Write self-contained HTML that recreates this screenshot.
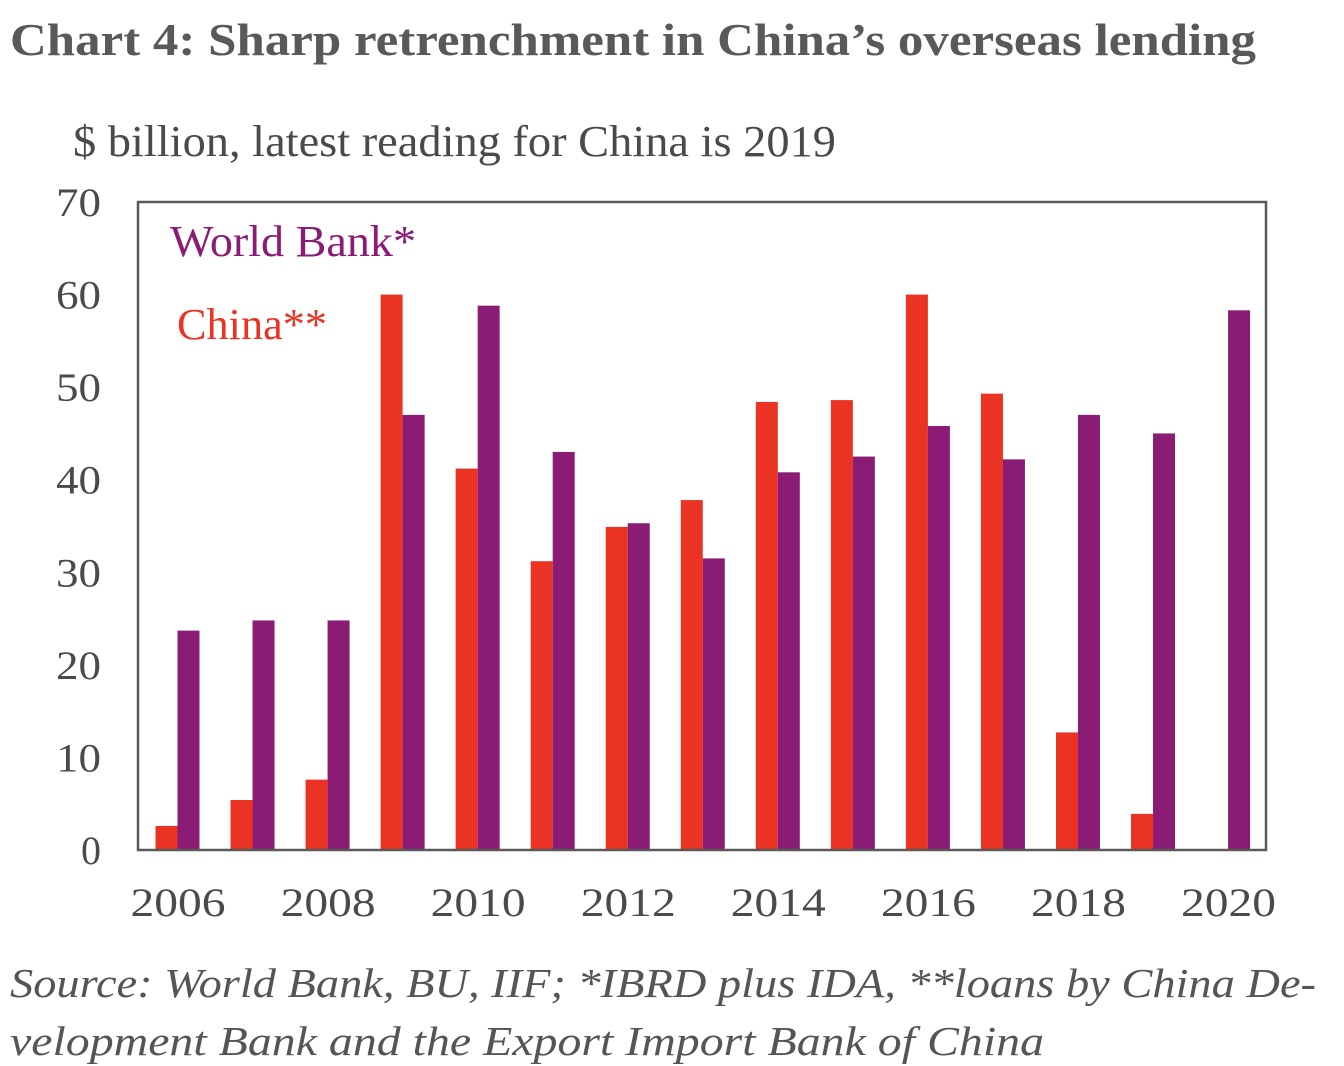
<!DOCTYPE html>
<html><head><meta charset="utf-8"><style>
html,body{margin:0;padding:0;background:#fff;}
svg{display:block;}
text{font-family:"Liberation Serif",serif;}
</style></head><body>
<svg width="1344" height="1066" viewBox="0 0 1344 1066">
<text x="10" y="55" font-size="45" font-weight="bold" fill="#595959" textLength="1246" lengthAdjust="spacingAndGlyphs">Chart 4: Sharp retrenchment in China’s overseas lending</text>
<text x="73" y="156" font-size="44" fill="#4a4a4a" textLength="763" lengthAdjust="spacingAndGlyphs">$ billion, latest reading for China is 2019</text>
<g id="bars"></g>
<g id="yticks"></g>
<g id="xticks"></g>
<rect x="138" y="202" width="1128" height="648" fill="none" stroke="#595959" stroke-width="2.5"/>
<text x="170" y="256" font-size="44" fill="#8b1c76" textLength="246" lengthAdjust="spacingAndGlyphs">World Bank*</text>
<text x="177" y="339" font-size="44" fill="#ea3323" textLength="150" lengthAdjust="spacingAndGlyphs">China**</text>
<text x="10" y="997" font-size="41" font-style="italic" fill="#555" textLength="1306" lengthAdjust="spacingAndGlyphs">Source: World Bank, BU, IIF; *IBRD plus IDA, **loans by China De-</text>
<text x="10" y="1055" font-size="41" font-style="italic" fill="#555" textLength="1034" lengthAdjust="spacingAndGlyphs">velopment Bank and the Export Import Bank of China</text>
</svg>
<script>
const years = [2006,2007,2008,2009,2010,2011,2012,2013,2014,2015,2016,2017,2018,2019,2020];
const china = [2.6,5.4,7.6,60,41.2,31.2,34.9,37.8,48.4,48.6,60,49.3,12.7,3.9,null];
const worldBank = [23.7,24.8,24.8,47,58.8,43,35.3,31.5,40.8,42.5,45.8,42.2,47,45,58.3];
const yTicks = [0,10,20,30,40,50,60,70];
const xTickLabels = ["2006","2008","2010","2012","2014","2016","2018","2020"];
const NS="http://www.w3.org/2000/svg";
const y0=850, y1=202, vmax=70;
function yScale(v){return y0-(v/vmax)*(y0-y1);}
const xStart=177.5, step=75.04, bw=22;
function xCenter(i){return xStart+i*step;}
const bars=document.getElementById('bars');
years.forEach((yr,i)=>{
  const c=xCenter(i);
  if(china[i]!=null){
    const r=document.createElementNS(NS,'rect');
    r.setAttribute('x',c-bw);r.setAttribute('width',bw);
    r.setAttribute('y',yScale(china[i]));r.setAttribute('height',y0-yScale(china[i]));
    r.setAttribute('fill','#ea3323');
    
    
    bars.appendChild(r);
  }
  const w=document.createElementNS(NS,'rect');
  w.setAttribute('x',c);w.setAttribute('width',bw);
  w.setAttribute('y',yScale(worldBank[i]));w.setAttribute('height',y0-yScale(worldBank[i]));
  w.setAttribute('fill','#8b1c76');
  
  
  bars.appendChild(w);
});
const yt=document.getElementById('yticks');
yTicks.forEach(v=>{
  const t=document.createElementNS(NS,'text');
  t.setAttribute('x',101);t.setAttribute('y',yScale(v)+14);
  t.setAttribute('text-anchor','end');t.setAttribute('font-size','40');t.setAttribute('fill','#4a4a4a');
  if(v>0){t.setAttribute('textLength','45');t.setAttribute('lengthAdjust','spacingAndGlyphs');}
  t.textContent=v;
  
  
  yt.appendChild(t);
});
const xt=document.getElementById('xticks');
xTickLabels.forEach(lab=>{
  const i=years.indexOf(+lab);
  const t=document.createElementNS(NS,'text');
  t.setAttribute('x',xCenter(i)-47);t.setAttribute('y',916);
  t.setAttribute('font-size','40');t.setAttribute('fill','#4a4a4a');
  t.setAttribute('textLength','95');t.setAttribute('lengthAdjust','spacingAndGlyphs');
  t.textContent=lab;
  
  
  xt.appendChild(t);
});
</script>
</body></html>
